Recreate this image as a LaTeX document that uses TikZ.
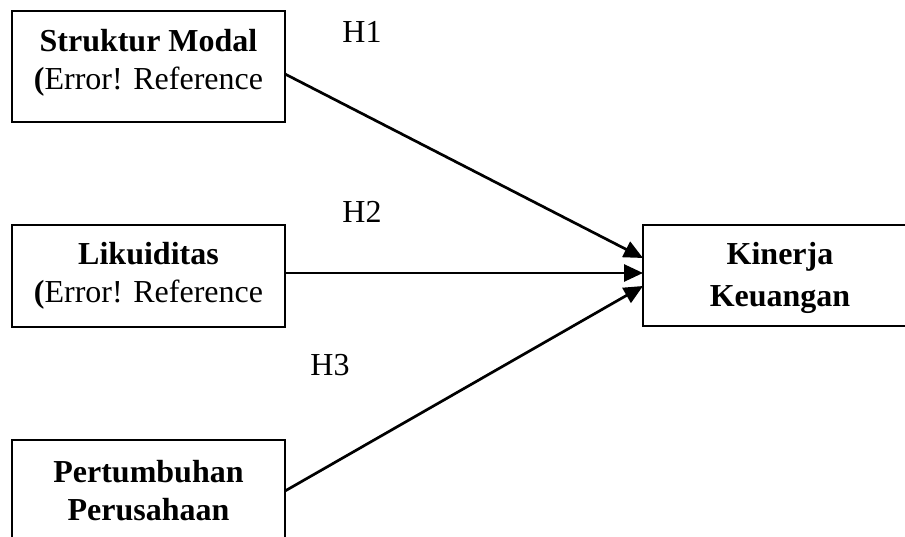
\documentclass[tikz,border=0pt]{standalone}
\usepackage{fontspec}
\setmainfont{Liberation Serif}
\usetikzlibrary{arrows.meta}
\tikzset{
  varbox/.style={draw=black, line width=2.3pt, rectangle, inner sep=0pt, outer sep=0pt, minimum width=273pt},
  txt/.style={anchor=base, inner sep=0pt, font=\fontsize{32}{38}\selectfont},
  btxt/.style={txt, font=\fontsize{32}{38}\selectfont\bfseries},
  link/.style={line width=2.7pt, -{Triangle[length=19pt,width=17pt]}}
}
\begin{document}
\begin{tikzpicture}[x=1pt,y=-1pt]
\useasboundingbox (0,0) rectangle (905,537);
\clip (0,0) rectangle (905,537);
\fill[white] (0,0) rectangle (905,537);
% boxes
\node[varbox, minimum height=111pt] (b1) at (148.5,66.5) {};
\node[varbox, minimum height=102pt] (b2) at (148.5,276) {};
\node[varbox, minimum height=120pt] (b3) at (148.5,500) {};
\node[varbox, minimum height=101pt, minimum width=274pt] (k) at (780,275.5) {};
% texts
\node[btxt] (t1a) at (148.5,52) {Struktur Modal};
\node[txt] (t1b) at (148.5,90) {\textbf{(}Error! Reference};
\node[btxt] (t2a) at (148.5,265) {Likuiditas};
\node[txt] (t2b) at (148.5,303) {\textbf{(}Error! Reference};
\node[btxt] (t3a) at (148.5,482) {Pertumbuhan};
\node[btxt] (t3b) at (148.5,520) {Perusahaan};
\node[btxt] (tka) at (780,265) {Kinerja};
\node[btxt] (tkb) at (780,307) {Keuangan};
% hypothesis labels
\node[txt] (h1) at (362,43) {H1};
\node[txt] (h2) at (362,223) {H2};
\node[txt] (h3) at (330,375) {H3};
% connectors
\draw[link] ([yshift=-7.5pt]b1.east) -- ([yshift=17.5pt]k.west);
\draw[link] ([yshift=3pt]b2.east) -- ([yshift=2.5pt]k.west);
\draw[link] ([yshift=9pt]b3.east) -- ([yshift=-10.5pt]k.west);
\end{tikzpicture}
\end{document}
